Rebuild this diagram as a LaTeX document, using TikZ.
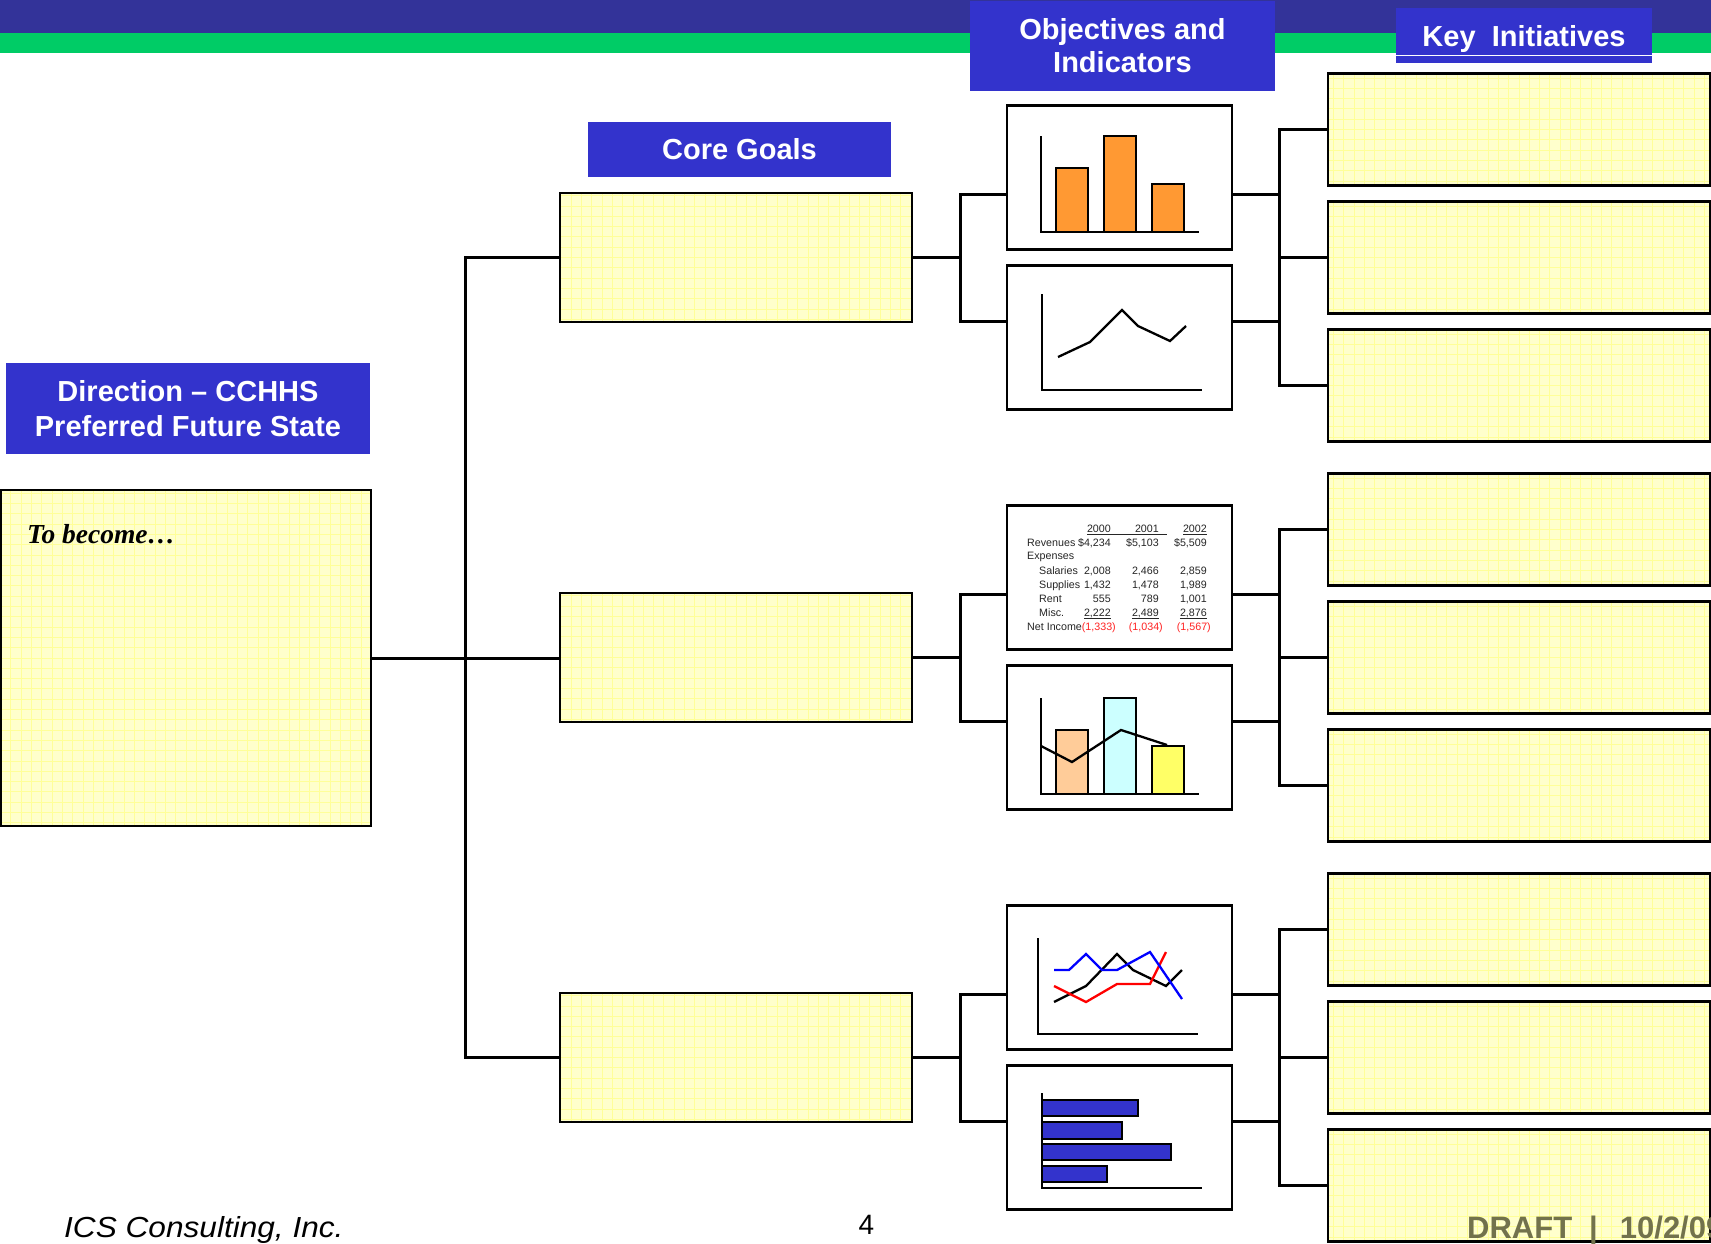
\documentclass[tikz,border=0pt]{standalone}
\usepackage{fontspec}
\usepackage{graphicx}
\setmainfont{Liberation Sans}
\newfontfamily\serifbi{Liberation Serif}
\definecolor{band}{HTML}{333399}
\definecolor{greenband}{HTML}{00CC66}
\definecolor{hdr}{HTML}{3333CC}
\definecolor{ylw}{HTML}{FFFFCC}
\definecolor{ygrid}{HTML}{FFFF99}
\definecolor{orng}{HTML}{FF9933}
\definecolor{peach}{HTML}{FFCC99}
\definecolor{cyanl}{HTML}{CCFFFF}
\definecolor{yel2}{HTML}{FFFF66}
\definecolor{draftc}{HTML}{72724C}
\definecolor{redt}{HTML}{FF2222}
\begin{document}
\begin{tikzpicture}[x=1pt,y=-1pt,
  ybox/.style={draw=black, line width=2.7pt, fill=ylw, inner sep=0pt,
    path picture={\draw[ygrid, line width=0.9pt, step=10.3pt]
      (path picture bounding box.south west) grid (path picture bounding box.north east);}},
  chbox/.style={draw=black, line width=2.7pt, fill=white, minimum width=225pt, minimum height=144pt, inner sep=0pt},
  hbox/.style={fill=hdr, text=white, font=\bfseries\fontsize{29}{35}\selectfont, align=center, inner sep=0pt},
  conn/.style={draw=black, line width=3pt},
  axisl/.style={draw=black, line width=2.6pt},
  barl/.style={draw=black, line width=1.6pt},
  cline/.style={line width=2.3pt},
  tbl/.style={font=\fontsize{10.7}{12}\selectfont, inner sep=0pt, text=black!85},
  tbr/.style={tbl, text=redt, anchor=base east}
]
\useasboundingbox (0,0) rectangle (1711,1243);
% top band
\fill[band] (0,0) rectangle (1711,33);
\fill[greenband] (0,33) rectangle (1711,53);

% left direction box
\node[ybox, minimum width=370pt, minimum height=336pt] (dir) at (186,658) {};
\node[font=\serifbi\bfseries\itshape\fontsize{27.5}{31}\selectfont, anchor=base west, inner sep=0pt] (tobe) at (27,543) {To become…};

% groups
\foreach \g/\c in {1/257.5, 2/657.5, 3/1057.5} {
  \node[ybox, minimum width=352pt, minimum height=129pt] (cg\g) at (736,\c) {};
  \node[chbox] (cha\g) at (1119.5,{\c-80}) {};
  \node[chbox] (chb\g) at (1119.5,{\c+80}) {};
  \node[ybox, minimum width=382pt, minimum height=112pt] (kia\g) at (1519,{\c-128}) {};
  \node[ybox, minimum width=382pt, minimum height=112pt] (kib\g) at (1519,\c) {};
  \node[ybox, minimum width=382pt, minimum height=112pt] (kic\g) at (1519,{\c+128}) {};
  \coordinate (fl\g) at (960,\c);
  \coordinate (fla\g) at (960,{\c-63.5});
  \coordinate (flb\g) at (960,{\c+63.5});
  \coordinate (fra\g) at (1279,{\c-63.5});
  \coordinate (frb\g) at (1279,{\c+63.5});
  \coordinate (frt\g) at (1279,{\c-128});
  \coordinate (frm\g) at (1279,\c);
  \coordinate (frd\g) at (1279,{\c+128});
  \draw[conn] (cg\g.east) -- (fl\g);
  \draw[conn] (cha\g.west |- fla\g) -- (fla\g) -- (flb\g) -- (chb\g.west |- flb\g);
  \draw[conn] (cha\g.east |- fra\g) -- (fra\g);
  \draw[conn] (chb\g.east |- frb\g) -- (frb\g);
  \draw[conn] (kia\g.west) -- (frt\g) -- (frd\g) -- (kic\g.west);
  \draw[conn] (kib\g.west) -- (frm\g);
}
% trunk
\coordinate (tk1) at (465,257.5);
\coordinate (tk3) at (465,1057.5);
\draw[conn] (cg1.west) -- (tk1) -- (tk3) -- (cg3.west);
\draw[conn] (dir.east) -- (dir.east -| cg2.west);

% headers
\node[hbox, minimum width=305pt, minimum height=90pt, font=\bfseries\fontsize{29}{33}\selectfont] (hobj) at (1122.5,46) {Objectives and\\Indicators};
\node[hbox, minimum width=256pt, minimum height=55pt, text depth=0pt] (hkey) at (1524,35.5) {Key\ \ Initiatives};
\draw[white, line width=1.5pt] (hkey.west |- 0,55.5) -- (hkey.east |- 0,55.5);
\node[hbox, minimum width=303pt, minimum height=55pt] (hcore) at (739.5,149.5) {Core Goals};
\node[hbox, minimum width=364pt, minimum height=91pt] (hdir) at (188,408.5) {Direction – CCHHS\\Preferred Future State};

% chart 1: bars
\draw[barl, fill=orng] (1056,168) rectangle (1088,232);
\draw[barl, fill=orng] (1104,136) rectangle (1136,232);
\draw[barl, fill=orng] (1152,184) rectangle (1184,232);
\draw[axisl] (1041,136) -- (1041,232) -- (1199,232);

% chart 2: line
\draw[axisl] (1042,294) -- (1042,390) -- (1202,390);
\draw[cline] (1058,357) -- (1090,342) -- (1122,310) -- (1138,326) -- (1170,341) -- (1186,326);

% chart 3: table
\node[tbl, anchor=base east] (th1) at (1111,532) {2000};
\node[tbl, anchor=base east] (th2) at (1159,532) {2001};
\node[tbl, anchor=base east] (th3) at (1207,532) {2002};
\draw[line width=0.8pt, black!85] (1087,534.5) -- (1167,534.5);
\draw[line width=0.8pt, black!85] (1183,534.5) -- (1207,534.5);
\node[tbl, anchor=base west] (tl1) at (1027,546) {Revenues};
\node[tbl, anchor=base west] (tl2) at (1027,559) {Expenses};
\node[tbl, anchor=base west] (tl3) at (1039,574) {Salaries};
\node[tbl, anchor=base west] (tl4) at (1039,588) {Supplies};
\node[tbl, anchor=base west] (tl5) at (1039,602) {Rent};
\node[tbl, anchor=base west] (tl6) at (1039,616) {Misc.};
\node[tbl, anchor=base west] (tl7) at (1027,630) {Net Income};
\node[tbl, anchor=base east] (r1a) at (1111,546) {\$4,234};
\node[tbl, anchor=base east] (r1b) at (1159,546) {\$5,103};
\node[tbl, anchor=base east] (r1c) at (1207,546) {\$5,509};
\node[tbl, anchor=base east] (r3a) at (1111,574) {2,008};
\node[tbl, anchor=base east] (r3b) at (1159,574) {2,466};
\node[tbl, anchor=base east] (r3c) at (1207,574) {2,859};
\node[tbl, anchor=base east] (r4a) at (1111,588) {1,432};
\node[tbl, anchor=base east] (r4b) at (1159,588) {1,478};
\node[tbl, anchor=base east] (r4c) at (1207,588) {1,989};
\node[tbl, anchor=base east] (r5a) at (1111,602) {555};
\node[tbl, anchor=base east] (r5b) at (1159,602) {789};
\node[tbl, anchor=base east] (r5c) at (1207,602) {1,001};
\node[tbl, anchor=base east] (r6a) at (1111,616) {2,222};
\node[tbl, anchor=base east] (r6b) at (1159,616) {2,489};
\node[tbl, anchor=base east] (r6c) at (1207,616) {2,876};
\foreach \n in {r6a,r6b,r6c}
  \draw[line width=0.8pt, black!85] ([yshift=-2pt]\n.base west) -- ([yshift=-2pt]\n.base east);
\node[tbr] (r7a) at (1116,630) {(1,333)};
\node[tbr] (r7b) at (1163,630) {(1,034)};
\node[tbr] (r7c) at (1211,630) {(1,567)};

% chart 4: bars with line
\draw[barl, fill=peach] (1056,730) rectangle (1088,794);
\draw[barl, fill=cyanl] (1104,698) rectangle (1136,794);
\draw[barl, fill=yel2] (1152,746) rectangle (1184,794);
\draw[axisl] (1041,698) -- (1041,794) -- (1199,794);
\draw[cline] (1041,746) -- (1072,762) -- (1121,730) -- (1167,745);

% chart 5: multi-line
\draw[axisl] (1038,938) -- (1038,1034) -- (1198,1034);
\draw[cline, black] (1054,1002) -- (1086,986) -- (1117,954) -- (1133,970) -- (1166,986) -- (1182,970);
\draw[cline, red] (1054,986) -- (1086,1002) -- (1117,984) -- (1150,984) -- (1166,952);
\draw[cline, blue] (1054,970) -- (1069,970) -- (1086,954) -- (1102,970) -- (1117,970) -- (1150,952) -- (1182,999);

% chart 6: horizontal bars
\draw[barl, fill=hdr] (1042,1100) rectangle (1138,1116);
\draw[barl, fill=hdr] (1042,1122) rectangle (1122,1139);
\draw[barl, fill=hdr] (1042,1144) rectangle (1171,1160);
\draw[barl, fill=hdr] (1042,1166) rectangle (1107,1182);
\draw[axisl] (1042,1093) -- (1042,1188) -- (1202,1188);

% footer
\node[font=\itshape\fontsize{29}{33}\selectfont, anchor=base west, inner sep=0pt] (ics) at (64,1237) {\scalebox{1.09}[1]{ICS Consulting, Inc.}};
\node[font=\fontsize{28}{32}\selectfont, anchor=base, inner sep=0pt] (pg) at (866.5,1234) {4};
\begin{scope}
\clip (0,0) rectangle (1711,1243);
\node[font=\bfseries\fontsize{31}{35}\selectfont, text=draftc, anchor=base west, inner sep=0pt] (draft) at (1467,1238) {DRAFT\hspace{17pt}|\hspace{22pt}10/2/09};
\end{scope}
\end{tikzpicture}
\end{document}
